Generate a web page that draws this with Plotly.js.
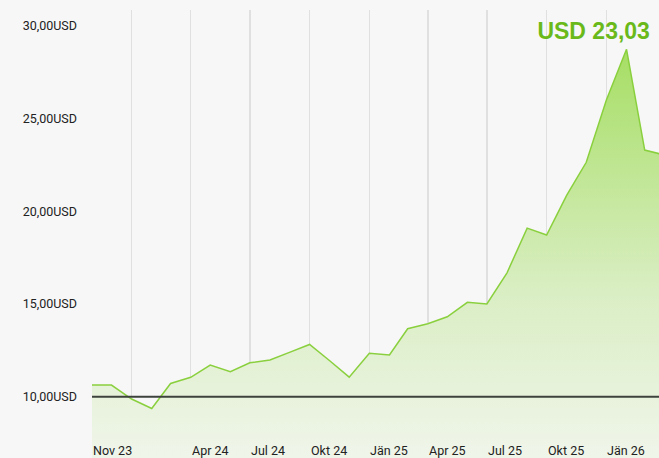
<!DOCTYPE html>
<html>
<head>
<meta charset="utf-8">
<script src="https://cdn.plot.ly/plotly-3.0.1.min.js"></script>
<style>html,body{margin:0;padding:0;background:#f7f7f7;}#chart{width:659px;height:458px;}</style>
</head>
<body>
<div id="chart"></div>
<script>
const months = ["2023-11-01","2023-12-01","2024-01-01","2024-02-01","2024-03-01","2024-04-01","2024-05-01","2024-06-01","2024-07-01","2024-08-01","2024-09-01","2024-10-01","2024-11-01","2024-12-01","2025-01-01","2025-02-01","2025-03-01","2025-04-01","2025-05-01","2025-06-01","2025-07-01","2025-08-01","2025-09-01","2025-10-01","2025-11-01","2025-12-01","2026-01-01","2026-02-01","2026-03-01","2026-04-01"];
const prices = [10.63,10.63,9.88,9.37,10.72,11.05,11.71,11.35,11.83,11.98,12.41,12.82,11.94,11.06,12.34,12.25,13.67,13.94,14.31,15.09,15.00,16.68,19.09,18.72,20.87,22.64,26.00,28.73,23.30,23.03];
const xTickVals = ["2023-11-01","2024-01-01","2024-04-01","2024-07-01","2024-10-01","2025-01-01","2025-04-01","2025-07-01","2025-10-01","2026-01-01"];
const xTickText = ["Nov 23","","Apr 24","Jul 24","Okt 24","Jän 25","Apr 25","Jul 25","Okt 25","Jän 26"];
const yTickVals = [10,15,20,25,30];
const baseline = 10;

const fmt = v => v.toFixed(2).replace(".", ",");
const yTickText = yTickVals.map(v => fmt(v) + "USD");
const last = prices[prices.length-1];
const titleText = "USD " + fmt(last);

const trace = {
  x: months, y: prices, type: "scatter", mode: "lines",
  line: {color: "#8ad03e", width: 1.5},
  fill: "tozeroy",
  fillgradient: {type: "vertical", start: 6.7, stop: 28.73,
    colorscale: [[0, "rgb(240,245,234)"], [0.4, "rgb(218,238,196)"], [1, "rgb(166,222,100)"]]},
  hoverinfo: "skip"
};

const xLabelAnnotations = xTickVals.map((d, i) => ({
  x: d, xref: "x", y: 0, yref: "paper", xanchor: "left", yanchor: "bottom",
  text: xTickText[i], showarrow: false, xshift: 0, yshift: -1, borderpad: 0,
  font: {family: "Roboto, Inter, sans-serif", size: 12.5, color: "#222"}
}));

const layout = {
  width: 659, height: 458,
  margin: {l: 92, r: 0, t: 10, b: 0},
  paper_bgcolor: "#f7f7f7", plot_bgcolor: "#f7f7f7",
  showlegend: false,
  font: {family: "Roboto, Inter, sans-serif", size: 12, color: "#222"},
  title: {text: "<b>" + titleText + "</b>", x: 0.984, xanchor: "right", xref: "paper", y: 0.9328, yref: "container", yanchor: "middle",
    font: {family: "'Liberation Sans', Arial, sans-serif", size: 23, color: "#6ab91a"}},
  xaxis: {type: "date", range: ["2023-11-01", "2026-03-23"], tickvals: xTickVals, ticktext: xTickText,
    showgrid: true, gridcolor: "#e0e0e0", gridwidth: 1.5, zeroline: false, showline: false,
    ticks: "", showticklabels: false},
  yaxis: {range: [6.7, 30.85], tickvals: yTickVals, ticktext: yTickText,
    showgrid: false, zeroline: false, showline: false, ticks: "", ticklabelstandoff: 14,
    tickfont: {family: "Roboto, Inter, sans-serif", size: 12.5, color: "#222"}},
  annotations: xLabelAnnotations,
  shapes: [{type: "line", xref: "paper", x0: 0, x1: 1, yref: "y", y0: baseline, y1: baseline,
    line: {color: "#3d423d", width: 2}}]
};

Plotly.newPlot("chart", [trace], layout, {displayModeBar: false, staticPlot: true});
</script>
</body>
</html>
